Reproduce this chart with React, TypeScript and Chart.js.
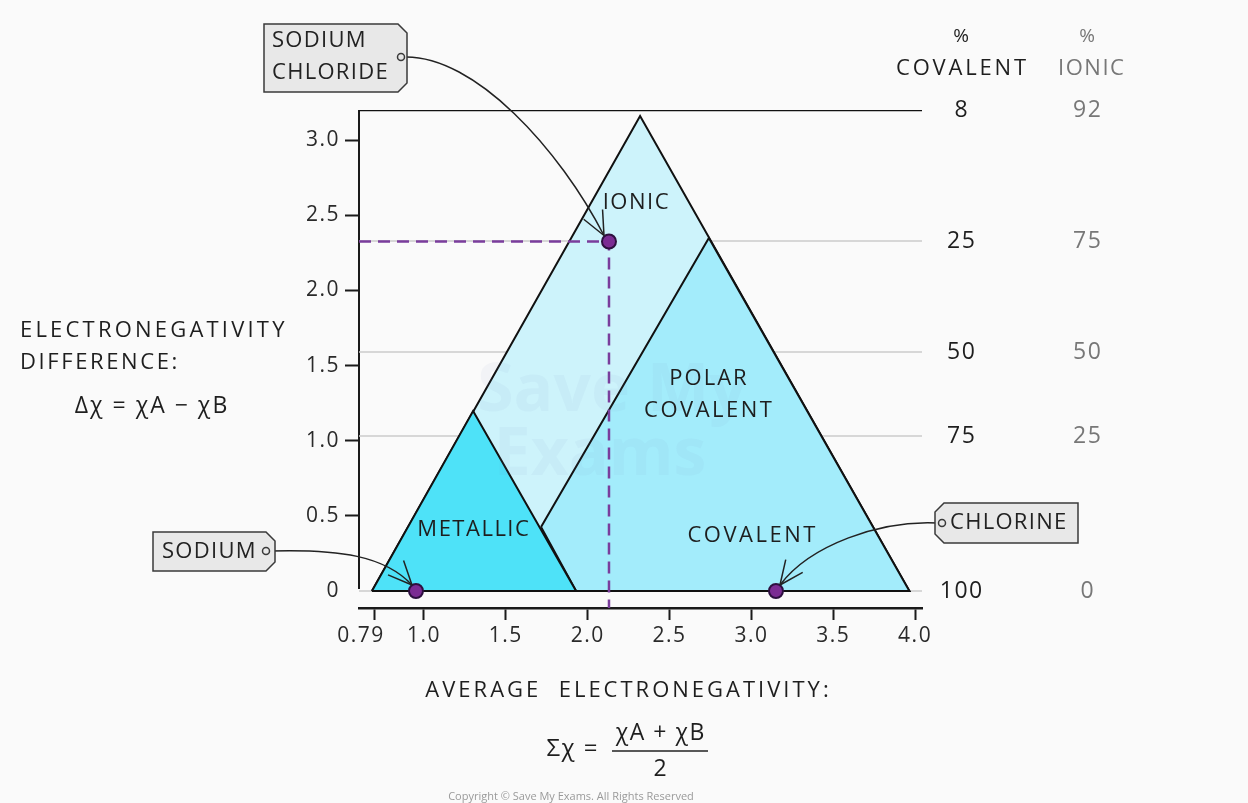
import React, { useEffect, useRef } from 'react';
import { Chart, registerables } from 'chart.js';
Chart.register(...registerables);

// ---- Axis ticks ----
const xTickValues = [0.7, 1.0, 1.5, 2.0, 2.5, 3.0, 3.5, 4.0];
const xTickLabels = ['0.79', '1.0', '1.5', '2.0', '2.5', '3.0', '3.5', '4.0'];
const yTickValues = [0, 0.5, 1.0, 1.5, 2.0, 2.5, 3.0];
const yTickLabels = ['0', '0.5', '1.0', '1.5', '2.0', '2.5', '3.0'];

// ---- Axis ranges ----
const xRange = [0.603, 4.042];
const yRange = [-0.113, 3.2];

// ---- Regions of the triangle (average EN, EN difference) ----
const ionicX = [0.682, 2.32, 3.965, 0.682];
const ionicY = [0, 3.16, 0, 0];
const covalentX = [1.715, 2.74, 3.965, 1.929, 1.715];
const covalentY = [0.426, 2.348, 0, 0, 0.426];
const metallicX = [0.682, 1.3, 1.929, 0.682];
const metallicY = [0, 1.197, 0, 0];

// ---- Compounds / elements ----
const pointNames = ['SODIUM', 'CHLORINE', 'SODIUM CHLORIDE'];
const pointX = [0.951, 3.15, 2.13];
const pointY = [0, 0, 2.325];

// ---- % covalent / % ionic scale on the right ----
const percentLevels = [3.2, 2.328, 1.59, 1.031, 0];
const covalentPct = ['8', '25', '50', '75', '100'];
const ionicPct = ['92', '75', '50', '25', '0'];

const FONT = '"Open Sans", "DejaVu Sans", sans-serif';

const pts = (xs: number[], ys: number[]) => xs.map((x, i) => ({ x, y: ys[i] }));

function txt(ctx: CanvasRenderingContext2D, s: string, x: number, y: number, size: number, color = '#1e1e1e', align: CanvasTextAlign = 'center', spacing = 1, weight = '400') {
  ctx.save();
  ctx.font = `${weight} ${size}px ${FONT}`;
  ctx.fillStyle = color;
  ctx.textAlign = align;
  ctx.textBaseline = 'middle';
  (ctx as any).letterSpacing = spacing + 'px';
  const shift = align === 'center' ? spacing / 2 : align === 'right' ? spacing : 0;
  ctx.fillText(s, x + shift, y);
  ctx.restore();
}

function tag(ctx: CanvasRenderingContext2D, x1: number, y1: number, x2: number, y2: number, side: 'left' | 'right', cx: number, cy: number) {
  const c = 9;
  ctx.save();
  ctx.beginPath();
  if (side === 'right') {
    ctx.moveTo(x1, y1);
    ctx.lineTo(x2 - c, y1);
    ctx.lineTo(x2, y1 + c);
    ctx.lineTo(x2, y2 - c);
    ctx.lineTo(x2 - c, y2);
    ctx.lineTo(x1, y2);
  } else {
    ctx.moveTo(x1 + c, y1);
    ctx.lineTo(x2, y1);
    ctx.lineTo(x2, y2);
    ctx.lineTo(x1 + c, y2);
    ctx.lineTo(x1, y2 - c);
    ctx.lineTo(x1, y1 + c);
  }
  ctx.closePath();
  ctx.fillStyle = '#e8e8e8';
  ctx.fill();
  ctx.strokeStyle = '#3a3a3a';
  ctx.lineWidth = 1.5;
  ctx.stroke();
  ctx.beginPath();
  ctx.arc(cx, cy, 3.5, 0, Math.PI * 2);
  ctx.stroke();
  ctx.restore();
}

function curveArrow(ctx: CanvasRenderingContext2D, p0: number[], p1: number[], p2: number[], p3: number[]) {
  ctx.save();
  ctx.strokeStyle = '#222';
  ctx.lineWidth = 1.5;
  ctx.beginPath();
  ctx.moveTo(p0[0], p0[1]);
  ctx.bezierCurveTo(p1[0], p1[1], p2[0], p2[1], p3[0], p3[1]);
  ctx.stroke();
  const ang = Math.atan2(p3[1] - p2[1], p3[0] - p2[0]) + Math.PI;
  const L = 26;
  ctx.beginPath();
  [ang - 0.42, ang + 0.42].forEach((a) => {
    ctx.moveTo(p3[0], p3[1]);
    ctx.lineTo(p3[0] + L * Math.cos(a), p3[1] + L * Math.sin(a));
  });
  ctx.stroke();
  ctx.restore();
}

const annotPlugin = {
  id: 'annot',
  beforeDraw(chart: any) {
    const { ctx, width, height } = chart;
    ctx.save();
    ctx.fillStyle = '#fafafa';
    ctx.fillRect(0, 0, width, height);
    ctx.restore();
    ctx.letterSpacing = '1.5px';
  },
  beforeDatasetsDraw(chart: any) {
    const { ctx, chartArea, scales } = chart;
    ctx.letterSpacing = '0px';
    ctx.save();
    ctx.strokeStyle = '#1a1a1a';
    ctx.lineWidth = 2;
    ctx.beginPath();
    ctx.moveTo(chartArea.left, chartArea.top);
    ctx.lineTo(chartArea.left, scales.y.getPixelForValue(0) - 2);
    ctx.stroke();
    ctx.restore();
  },
  afterDatasetsDraw(chart: any) {
    const { ctx, scales } = chart;
    const xs = scales.x, ys = scales.y;
    const X = (v: number) => xs.getPixelForValue(v);
    const Y = (v: number) => ys.getPixelForValue(v);

    // faint watermark
    txt(ctx, 'Save My', 612, 392, 66, 'rgba(120,130,190,0.06)', 'center', 0, '700');
    txt(ctx, 'Exams', 600, 456, 66, 'rgba(120,130,190,0.06)', 'center', 0, '700');

    // region labels
    txt(ctx, 'IONIC', X(2.2925), Y(2.58), 22, '#1e1e1e', 'center', 1.5);
    txt(ctx, 'POLAR', X(2.735), Y(1.41), 22, '#1e1e1e', 'center', 2);
    txt(ctx, 'COVALENT', X(2.735), Y(1.2), 22, '#1e1e1e', 'center', 2.5);
    txt(ctx, 'METALLIC', X(1.3), Y(0.41), 22, '#1e1e1e', 'center', 1.5);
    txt(ctx, 'COVALENT', X(3.0), Y(0.37), 22, '#1e1e1e', 'center', 2.5);

    // right-hand % scale
    const covX = 961, ionX = 1087;
    txt(ctx, '%', covX, 37, 19, '#1e1e1e', 'center', 0);
    txt(ctx, '%', ionX, 37, 19, '#777', 'center', 0);
    txt(ctx, 'COVALENT', covX, 69, 22, '#1e1e1e', 'center', 2.8);
    txt(ctx, 'IONIC', ionX + 4, 69, 22, '#777', 'center', 1.5);
    percentLevels.forEach((lv, i) => {
      txt(ctx, covalentPct[i], covX, Y(lv), 23, '#1e1e1e', 'center', 1.5);
      txt(ctx, ionicPct[i], ionX, Y(lv), 23, '#777', 'center', 1.5);
    });

    // axis titles
    txt(ctx, 'ELECTRONEGATIVITY', 20, 331, 22, '#1e1e1e', 'left', 3.2);
    txt(ctx, 'DIFFERENCE:', 20, 363, 22, '#1e1e1e', 'left', 2.6);
    txt(ctx, 'Δχ = χA − χB', 151, 406, 23, '#1e1e1e', 'center', 2);
    txt(ctx, 'AVERAGE  ELECTRONEGATIVITY:', 627, 691, 22, '#1e1e1e', 'center', 3);
    txt(ctx, 'Σχ =', 572, 749, 24, '#1e1e1e', 'center', 1.5);
    txt(ctx, 'χA + χB', 660, 733, 23, '#1e1e1e', 'center', 1.5);
    ctx.save();
    ctx.strokeStyle = '#222';
    ctx.lineWidth = 1.5;
    ctx.beginPath();
    ctx.moveTo(612, 751);
    ctx.lineTo(708, 751);
    ctx.stroke();
    ctx.restore();
    txt(ctx, '2', 660, 769, 23, '#1e1e1e', 'center', 0);
    txt(ctx, 'Copyright © Save My Exams. All Rights Reserved', 571, 797, 11, '#9a9a9a', 'center', 0);

    // callouts
    const sx = X(pointX[0]), sy = Y(pointY[0]);
    const cx = X(pointX[1]), cy = Y(pointY[1]);
    const nx = X(pointX[2]), ny = Y(pointY[2]);
    curveArrow(ctx, [404, 57], [475, 55], [560, 150], [nx - 5, ny - 6]);
    curveArrow(ctx, [270, 551], [340, 549], [385, 556], [sx - 4, sy - 6]);
    curveArrow(ctx, [938, 523], [880, 520], [810, 545], [cx + 4, cy - 6]);

    tag(ctx, 264, 24, 407, 92, 'right', 401, 57);
    txt(ctx, 'SODIUM', 272, 41, 22, '#222', 'left', 1.3);
    txt(ctx, 'CHLORIDE', 272, 73, 22, '#222', 'left', 1.3);
    tag(ctx, 153, 532, 275, 571, 'right', 266, 551);
    txt(ctx, pointNames[0], 162, 552, 22, '#222', 'left', 1.3);
    tag(ctx, 935, 503, 1078, 543, 'left', 942, 523);
    txt(ctx, pointNames[1], 950, 523, 22, '#222', 'left', 1.3);
  },
};

export default function App() {
  const ref = useRef<HTMLCanvasElement>(null);
  useEffect(() => {
    document.body.style.margin = '0';
    const lineSets = percentLevels.map((lv, i) => ({
      label: 'level' + i,
      data: [{ x: xRange[0], y: lv }, { x: xRange[1], y: lv }],
      showLine: true,
      borderColor: i === 0 ? '#111' : '#cbcbcb',
      borderWidth: i === 0 ? 2.5 : 1.5,
      pointRadius: 0,
      fill: false,
      order: 20,
    }));
    const poly = (label: string, xs: number[], ys: number[], bg: string, order: number) => ({
      label,
      data: pts(xs, ys),
      showLine: true,
      borderColor: '#111',
      borderWidth: 2,
      backgroundColor: bg,
      pointRadius: 0,
      tension: 0,
      fill: 'shape',
      borderJoinStyle: 'miter',
      order,
    });
    const chart = new Chart(ref.current!, {
      type: 'scatter',
      data: {
        datasets: [
          ...lineSets,
          poly('Ionic', ionicX, ionicY, '#cdf3fb', 12),
          poly('Covalent', covalentX, covalentY, '#a3ecfb', 11),
          poly('Metallic', metallicX, metallicY, '#4ee2f8', 10),
          {
            label: 'guide',
            data: [
              { x: xRange[0], y: pointY[2] },
              { x: pointX[2], y: pointY[2] },
              { x: pointX[2], y: yRange[0] },
            ],
            showLine: true,
            borderColor: '#7a3d9c',
            borderWidth: 2.5,
            borderDash: [12, 7],
            pointRadius: 0,
            fill: false,
            order: 5,
          },
          {
            label: 'points',
            data: pts(pointX, pointY),
            pointRadius: 7,
            pointBackgroundColor: '#7b2c93',
            pointBorderColor: '#2e1040',
            pointBorderWidth: 2,
            order: 1,
          },
        ] as any,
      },
      options: {
        animation: false,
        responsive: false,
        maintainAspectRatio: false,
        layout: { padding: { left: 299, right: 326, top: 110, bottom: 125 } },
        plugins: { legend: { display: false }, tooltip: { enabled: false } },
        scales: {
          x: {
            type: 'linear',
            min: xRange[0],
            max: xRange[1],
            afterBuildTicks: (s: any) => { s.ticks = xTickValues.map((v) => ({ value: v })); },
            afterFit: (s: any) => { s.height = 70; },
            ticks: {
              autoSkip: false,
              maxRotation: 0,
              padding: 3,
              color: '#2a2a2a',
              font: { family: FONT, size: 21 },
              // first label sits a little left of its tick, as in the drawing
              callback: (_v: any, i: number) => (i === 0 ? xTickLabels[i] + '    ' : xTickLabels[i]),
            },
            grid: { drawOnChartArea: false, drawTicks: true, tickLength: 12, tickWidth: 2, tickColor: '#1a1a1a' },
            border: { display: true, color: '#1a1a1a', width: 2.5 },
          },
          y: {
            type: 'linear',
            min: yRange[0],
            max: yRange[1],
            afterBuildTicks: (s: any) => { s.ticks = yTickValues.map((v) => ({ value: v })); },
            afterFit: (s: any) => { s.width = 60; },
            ticks: {
              autoSkip: false,
              padding: 5,
              color: '#2a2a2a',
              font: { family: FONT, size: 21 },
              callback: (_v: any, i: number) => yTickLabels[i],
            },
            grid: {
              drawOnChartArea: false,
              drawTicks: true,
              tickLength: 14,
              tickWidth: 2,
              tickColor: (c: any) => (c.tick && c.tick.value === 0 ? 'rgba(0,0,0,0)' : '#1a1a1a'),
            },
            border: { display: false },
          },
        },
      } as any,
      plugins: [annotPlugin as any],
    });
    return () => chart.destroy();
  }, []);
  return (
    <div style={{ position: 'fixed', left: 0, top: 0, width: 1248, height: 803 }}>
      <canvas ref={ref} width={1248} height={803} style={{ width: 1248, height: 803, display: 'block' }} />
    </div>
  );
}
